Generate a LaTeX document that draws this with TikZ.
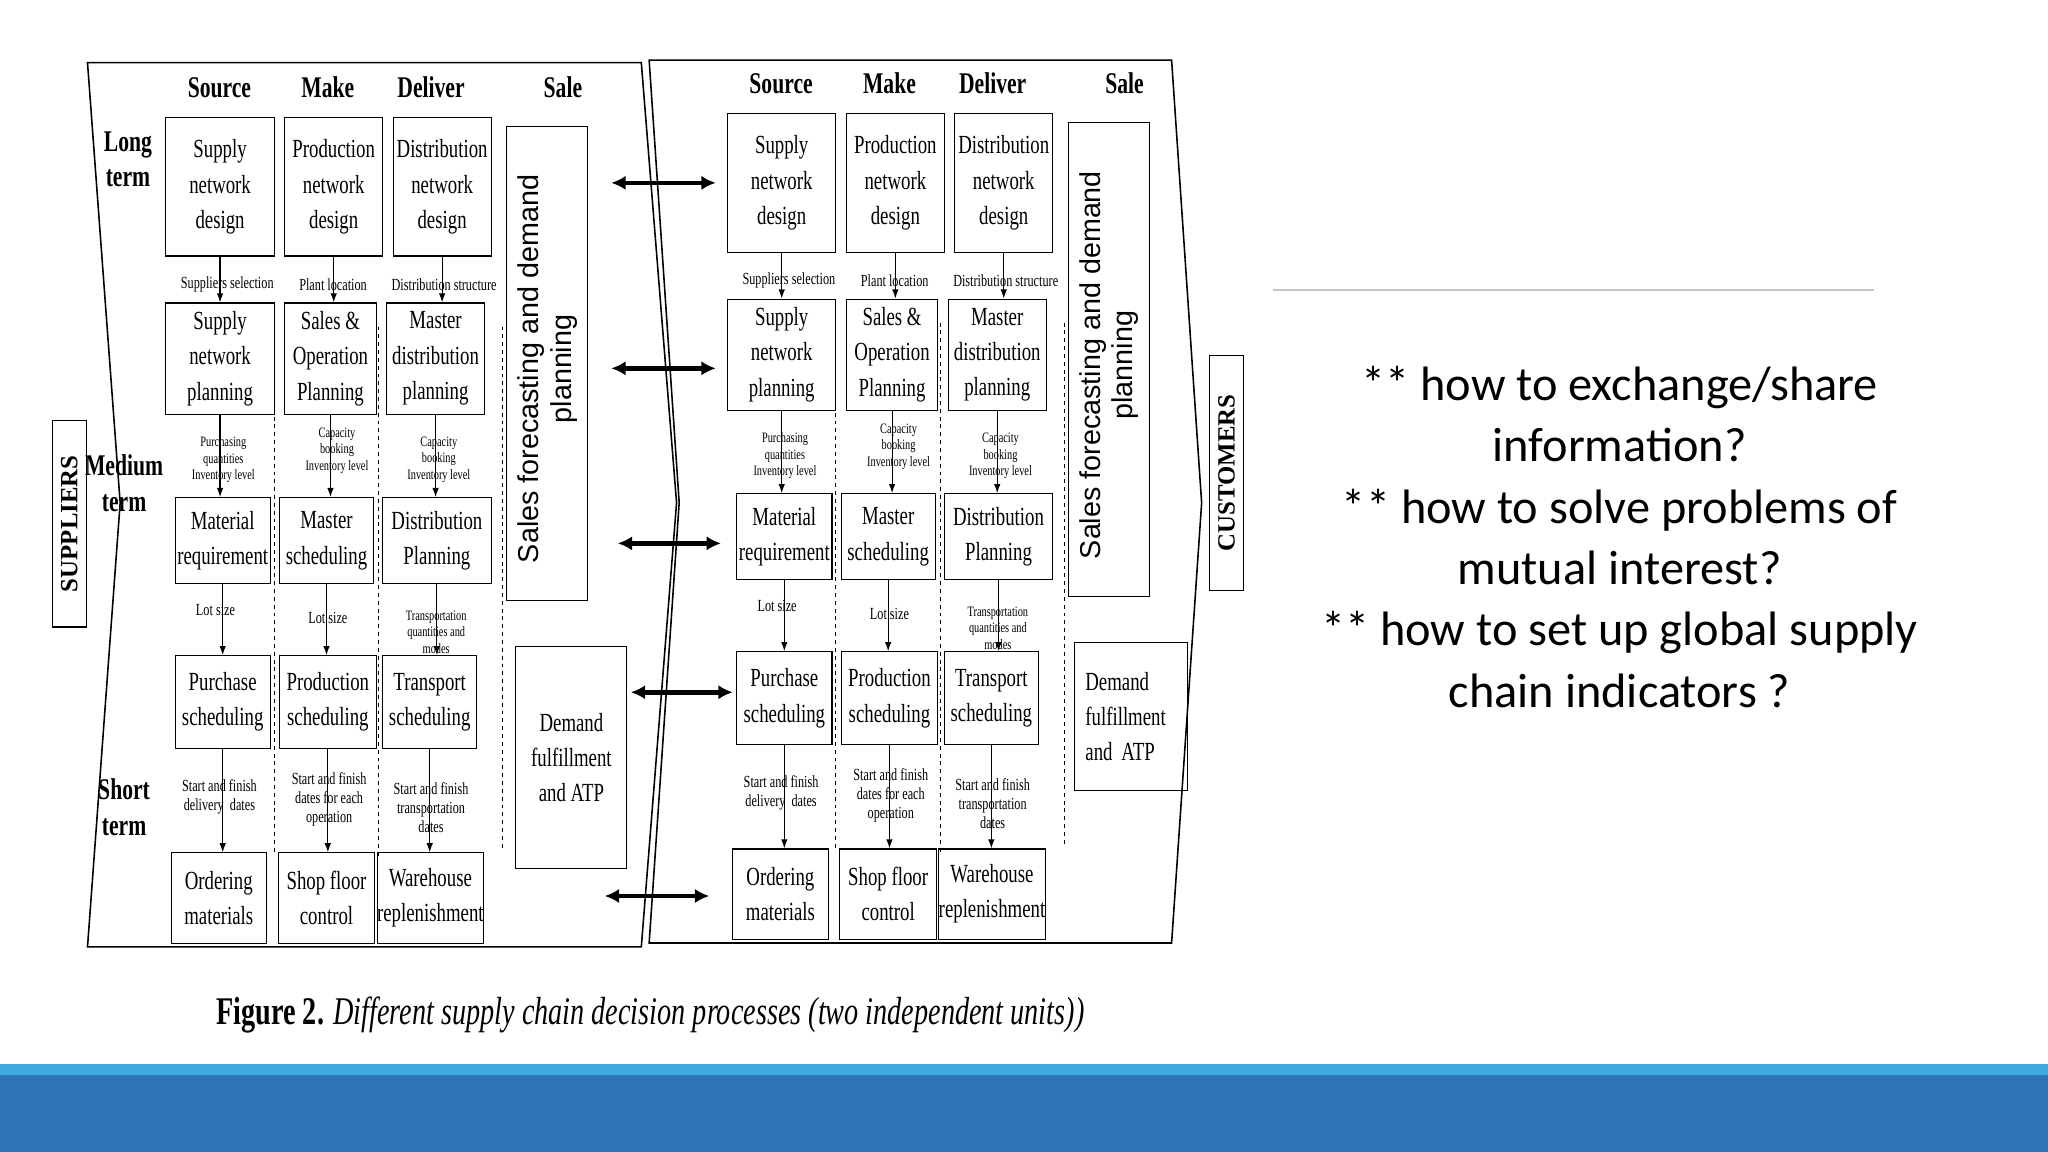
\documentclass[tikz,border=0pt]{standalone}
\usepackage{fontspec}
\setmainfont{Liberation Serif}
\newfontfamily\cond[FakeStretch=0.72]{Liberation Serif}
\newfontfamily\calib{Carlito}
\newfontfamily\asans{Liberation Sans}
\usetikzlibrary{arrows.meta}
\definecolor{barblue}{HTML}{2E75B6}
\definecolor{barlight}{HTML}{3FA9E0}
\tikzset{
  bx/.style={draw,line width=0.8pt,align=center,inner sep=0pt,font=\cond\fontsize{20}{27}\selectfont},
  lab/.style={align=center,inner sep=0pt,font=\cond\fontsize{13}{14.5}\selectfont},
  slab/.style={align=center,inner sep=0pt,font=\cond\fontsize{11}{12.5}\selectfont},
  hd/.style={font=\cond\bfseries\fontsize{23}{27}\selectfont},
  arr/.style={-{Latex[length=7pt,width=5pt]},line width=0.9pt},
  dbl/.style={{Latex[length=11pt,width=11pt]}-{Latex[length=11pt,width=11pt]},line width=3.5pt},
  dsh/.style={dashed,line width=0.8pt},
  outl/.style={line width=1.2pt},
  side/.style={draw,line width=1pt,minimum width=26pt,inner sep=0pt,font=\bfseries\fontsize{19}{20}\selectfont}
}
\newcommand\mybox[6]{\node[bx,minimum width={(#4-#2)*1pt},minimum height={(#5-#3)*1pt}] (#1) at ({(#2+#4)/2},{(#3+#5)/2}) {#6};}
\newcommand\mypanel[1]{
  \node[hd] (#1hs) at (168,67) {Source};
  \node[hd] (#1hm) at (251,67) {Make};
  \node[hd] (#1hd) at (330,67) {Deliver};
  \node[hd] (#1hl) at (431,67) {Sale};
  \mybox{#1r1a}{127}{90}{210}{196}{Supply\\network\\design}
  \mybox{#1r1b}{218}{90}{293}{196}{Production\\network\\design}
  \mybox{#1r1c}{301}{90}{376}{196}{Distribution\\network\\design}
  \mybox{#1r2a}{127}{232}{210}{317}{Supply\\network\\planning}
  \mybox{#1r2b}{218}{232}{288}{317}{Sales \&\\Operation\\Planning}
  \mybox{#1r2c}{296}{232}{371}{317}{Master\\distribution\\planning}
  \mybox{#1r3a}{134}{381}{207}{447}{Material\\requirement}
  \mybox{#1r3b}{214}{381}{286}{447}{Master\\scheduling}
  \mybox{#1r3c}{293}{381}{376}{447}{Distribution\\Planning}
  \mybox{#1r4a}{134}{502}{207}{573}{Purchase\\scheduling}
  \mybox{#1r4b}{214}{502}{288}{573}{Production\\scheduling}
  \mybox{#1r4c}{293}{502}{365}{573}{Transport\\scheduling}
  \mybox{#1r5a}{131}{653}{204}{722}{Ordering\\materials}
  \mybox{#1r5b}{213}{653}{287}{722}{Shop floor\\control}
  \mybox{#1r5c}{293}{653}{366}{722}{Warehouse\\replenishment}
  \node[draw,line width=0.8pt,minimum width=62pt,minimum height=363pt] (#1sf) at (419,278.5) {};
  \node[rotate=90,align=center,font=\asans\fontsize{22}{25}\selectfont] (#1sft) at ([yshift=-4pt]#1sf.center) {Sales forecasting and demand\\planning};
  \node[lab] (#1l1a) at (174,218) {Suppliers selection};
  \node[lab] (#1l1b) at (255,218) {Plant location};
  \node[lab] (#1l1c) at (340,218) {Distribution structure};
  \node[slab] (#1l2a) at (171,352) {Purchasing\\quantities\\Inventory level};
  \node[slab] (#1l2b) at (258,345) {Capacity\\booking\\Inventory level};
  \node[slab] (#1l2c) at (336,352) {Capacity\\booking\\Inventory level};
  \node[lab] (#1l3a) at (165,467) {Lot size};
  \node[lab] (#1l3b) at (251,473) {Lot size};
  \node[slab] (#1l3c) at (334,484) {Transportation\\quantities and\\modes};
  \node[lab] (#1l4a) at (168,610) {Start and finish\\delivery\ \ dates};
  \node[lab] (#1l4b) at (252,612) {Start and finish\\dates for each\\operation};
  \node[lab] (#1l4c) at (330,618) {Start and finish\\transportation\\dates};
  \foreach \c in {a,b,c}{
    \draw[arr] (#1r1\c.south) -- (#1r1\c.south |- #1r2\c.north);
    \draw[arr] (#1r2\c.south) -- (#1r2\c.south |- #1r3\c.north);
    \draw[arr] (#1r3\c.south) -- (#1r3\c.south |- #1r4\c.north);
    \draw[arr] (#1r4\c.south) -- (#1r4\c.south |- #1r5\c.north);
  }
  \coordinate (#1d1t) at (210,319); \coordinate (#1d1b) at (210,655);
  \coordinate (#1d2t) at (290,250); \coordinate (#1d2b) at (290,655);
  \coordinate (#1d3t) at (385,250); \coordinate (#1d3b) at (385,650);
  \draw[dsh] (#1d1t) -- (#1d1b);
  \draw[dsh] (#1d2t) -- (#1d2b);
  \draw[dsh] (#1d3t) -- (#1d3b);
}
\begin{document}
\begin{tikzpicture}[x=1pt,y=-1pt]
\useasboundingbox (0,0) rectangle (1568,882);
\fill[white] (0,0) rectangle (1568,882);
% bottom bar
\fill[barlight] (0,815) rectangle (1568,823);
\fill[barblue] (0,823) rectangle (1568,882);
% panel outlines
\draw[outl] (67,48) -- (491,48) -- (518,385) -- (491,725) -- (67,725) -- (92,385) -- cycle;
\draw[outl] (497,46) -- (897,46) -- (920,385) -- (897,722) -- (497,722) -- (520,385) -- cycle;
% side labels
\node[side,minimum height=158pt] (sup) at (53,401) {};
\node[rotate=90,font=\bfseries\fontsize{19}{20}\selectfont] (supt) at (sup) {SUPPLIERS};
\node[side,minimum height=180pt] (cus) at (939,362) {};
\node[rotate=90,font=\bfseries\fontsize{19}{20}\selectfont] (cust) at (cus) {CUSTOMERS};
% term labels
\node[hd,align=center] (lt) at (98,122) {Long\\term};
\node[hd,align=center] (mt) at (95,370) {Medium\\term};
\node[hd,align=center] (st) at (95,618) {Short\\term};
% panels
\begin{scope}
\mypanel{L}
\end{scope}
\begin{scope}[xshift=430pt,yshift=3pt]
\mypanel{R}
\end{scope}
% demand boxes
\node[draw,line width=0.8pt,minimum width=85pt,minimum height=170pt,align=center,font=\cond\fontsize{20}{27}\selectfont] (Ldem) at (437.5,580) {Demand\\fulfillment\\and ATP};
\node[draw,line width=0.8pt,minimum width=86pt,minimum height=113pt,align=left,font=\cond\fontsize{20}{27}\selectfont,text width=70pt] (Rdem) at (866,548.5) {Demand\\fulfillment\\and ATP};
% double arrows
\coordinate (a1l) at (468,140); \coordinate (a1r) at (548,140);
\coordinate (a2l) at (468,282); \coordinate (a2r) at (548,282);
\coordinate (a3l) at (473,416); \coordinate (a3r) at (552,416);
\coordinate (a4l) at (483,530); \coordinate (a4r) at (561,530);
\coordinate (a5l) at (463,686); \coordinate (a5r) at (543,686);
\draw[dbl] (a1l) -- (a1r);
\draw[dbl] (a2l) -- (a2r);
\draw[dbl] (a3l) -- (a3r);
\draw[dbl] (a4l) -- (a4r);
\draw[dbl] (a5l) -- (a5r);
% caption
\node[font=\cond\fontsize{30}{33}\selectfont] (cap) at (498,777) {\textbf{Figure 2.} \textit{Different supply chain decision processes (two independent units))}};
% right text
\coordinate (gl1) at (975,222); \coordinate (gl2) at (1435,222);
\draw[gray!45,line width=1pt] (gl1) -- (gl2);
\node[align=center,font=\calib\fontsize{37}{47}\selectfont] (q) at (1240,411) {** how to exchange/share\\information?\\** how to solve problems of\\mutual interest?\\** how to set up global supply\\chain indicators ?};
\end{tikzpicture}
\end{document}
